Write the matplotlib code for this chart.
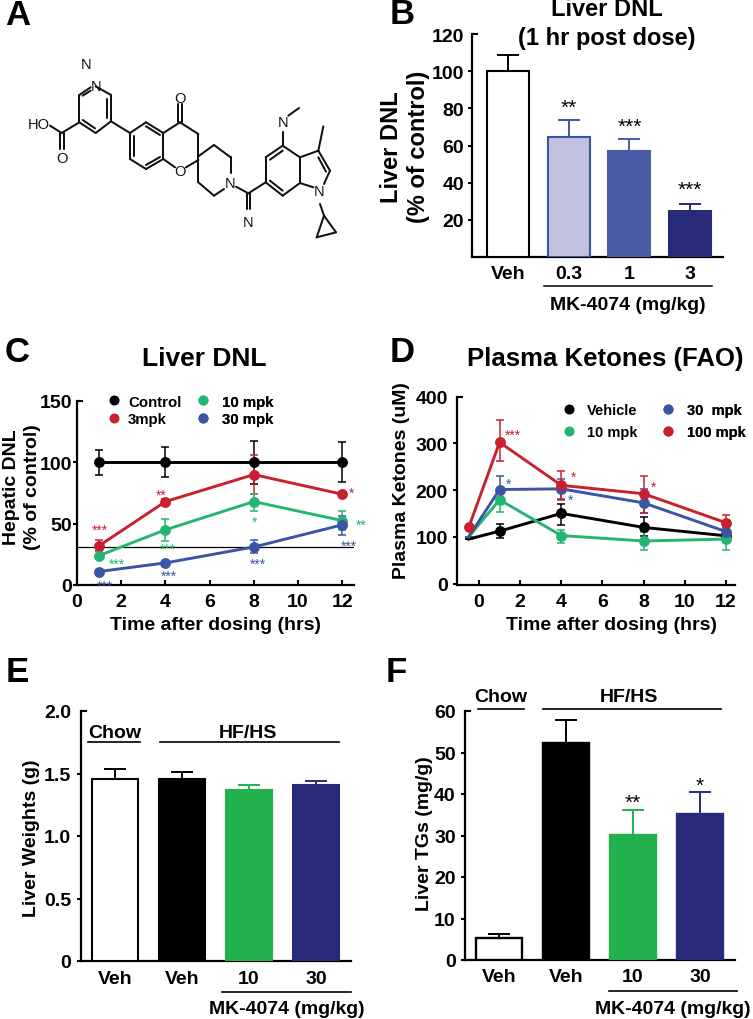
import matplotlib
matplotlib.use("Agg")
import matplotlib.pyplot as plt
from matplotlib.lines import Line2D
from matplotlib.markers import TICKRIGHT
from matplotlib.transforms import Affine2D

W, H = 753, 1020
plt.rcParams['font.family'] = ['Liberation Sans', 'DejaVu Sans']
plt.rcParams['font.weight'] = 'bold'

BLACK, RED, GREEN, BLUE = '#000000', '#C8202F', '#25B573', '#3B55A5'
BAR_GREEN, NAVY, LIGHT, MID = '#22B14C', '#272B78', '#C2C1E0', '#4A5CA8'

# ---------- Panel B ----------
b_cats = ['Veh', '0.3', '1', '3']
b_vals = [100, 64.5, 57, 24.5]
b_tops = [108.5, 73.5, 63.5, 28.5]
b_fill = ['white', LIGHT, MID, NAVY]
b_edge = ['black', BLUE, MID, NAVY]
b_stars = ['', '**', '***', '***']
b_star_y = [0, 84, 73.5, 40]

# ---------- Panel C ----------
c_t = [1, 4, 8, 12]
c_ctrl = [100, 100, 100, 100]
c_ctrl_lo = [90, 88, 82.6, 84]
c_ctrl_hi = [110, 112.6, 117.5, 116.6]
c_3 = [32, 68, 90, 74]
c_3_lo = [28, 66, 74.5, 72]
c_3_hi = [37, 70, 106, 76]
c_10 = [24, 45, 68, 52.5]
c_10_lo = [22.5, 36, 60.6, 45]
c_10_hi = [25.5, 54, 74, 60]
c_30 = [11, 18, 31, 49]
c_30_lo = [10, 16.5, 26, 41]
c_30_hi = [12, 19.5, 37, 56]
c_ref = 31
c_ann = [('***', 1.05, 47.7, RED), ('**', 3.82, 76.6, RED), ('*', 12.4, 78.5, RED),
         ('***', 1.8, 20.4, GREEN), ('***', 4.12, 32.4, GREEN), ('*', 8.05, 54.4, GREEN),
         ('**', 12.86, 51.8, GREEN), ('***', 1.24, 2.7, BLUE), ('***', 4.15, 11, BLUE),
         ('***', 8.17, 20, BLUE), ('***', 12.3, 35.4, BLUE)]

# ---------- Panel D ----------
d_t = [-0.5, 1, 4, 8, 12]
d_veh = [95, 112, 150, 120, 102]
d_veh_lo = [95, 97, 125, 102, 96]
d_veh_hi = [95, 127, 169, 142, 108]
d_10 = [100, 179, 102.5, 91, 95]
d_10_lo = [100, 153, 87, 72, 72]
d_10_hi = [100, 200, 115, 110, 115]
d_30 = [100, 201, 202.5, 172.5, 111]
d_30_lo = [100, 175, 180, 151, 103]
d_30_hi = [100, 229, 224, 202, 119]
d_100 = [120, 302, 210, 192, 130]
d_100_lo = [120, 263, 179, 151, 113]
d_100_hi = [120, 350, 240, 231, 147]
d_ann = [('***', 1.64, 327, RED), ('*', 1.42, 222, BLUE), ('*', 4.6, 237, RED),
         ('*', 4.47, 187, BLUE), ('*', 8.5, 215, RED)]

# ---------- Panel E ----------
e_cats = ['Veh', 'Veh', '10', '30']
e_vals = [1.46, 1.46, 1.37, 1.41]
e_tops = [1.535, 1.51, 1.41, 1.44]
e_fill = ['white', 'black', BAR_GREEN, NAVY]
e_edge = ['black', 'black', BAR_GREEN, NAVY]

# ---------- Panel F ----------
f_cats = ['Veh', 'Veh', '10', '30']
f_vals = [5.2, 52.2, 30.2, 35.2]
f_tops = [6.2, 57.8, 36.2, 40.5]
f_fill = ['white', 'black', BAR_GREEN, NAVY]
f_edge = ['black', 'black', BAR_GREEN, NAVY]
f_stars = ['', '', '**', '*']
f_star_y = [0, 0, 39.4, 43.5]

# ---------- Panel A: skeleton, in 3x-zoom pixel units ----------
bonds = [
    (287, 262, 333, 288), (333, 288, 333, 367), (333, 367, 287, 402), (287, 402, 238, 370),
    (238, 370, 238, 288), (238, 288, 272, 265), (322, 300, 322, 358), (285, 388, 248, 363),
    (248, 290, 272, 275), (238, 370, 185, 402), (185, 402, 150, 380), (180, 402, 180, 450),
    (191, 402, 191, 450), (333, 367, 390, 402), (390, 402, 438, 370), (438, 370, 490, 402),
    (490, 402, 490, 480), (490, 480, 438, 510), (438, 510, 390, 480), (390, 480, 390, 402),
    (402, 410, 402, 472), (438, 382, 480, 408), (438, 498, 480, 474), (490, 402, 540, 370),
    (535, 370, 535, 314), (546, 370, 546, 314), (540, 370, 595, 405), (595, 405, 595, 550),
    (490, 480, 525, 505), (558, 505, 595, 483), (595, 472, 642, 438), (642, 438, 692, 475),
    (692, 475, 692, 522), (595, 550, 642, 590), (642, 590, 672, 570), (708, 563, 745, 583),
    (740, 583, 740, 630), (751, 583, 751, 630), (745, 583, 797, 550), (797, 550, 797, 475),
    (797, 475, 848, 440), (848, 440, 900, 475), (900, 475, 900, 552), (900, 552, 848, 590),
    (848, 590, 797, 550), (810, 482, 848, 455), (810, 545, 848, 575), (848, 440, 848, 400),
    (865, 350, 897, 327), (900, 475, 955, 455), (955, 455, 990, 515), (990, 515, 972, 555),
    (900, 552, 940, 565), (955, 455, 970, 382), (955, 475, 978, 518), (960, 615, 972, 650),
    (972, 650, 950, 715), (950, 715, 1008, 700), (1008, 700, 972, 650),
]
atoms = [('N', 257, 195), ('N', 287, 262), ('HO', 115, 376), ('O', 187, 476), ('O', 540, 298),
         ('O', 540, 515), ('N', 690, 553), ('N', 745, 668), ('N', 848, 370), ('N', 958, 575)]

fig = plt.figure(figsize=(W / 100, H / 100), dpi=100)
PX = Affine2D().scale(1 / W, -1 / H).translate(0, 1) + fig.transFigure


def axpx(left, top, right, bottom):
    a = fig.add_axes([left / W, 1 - bottom / H, (right - left) / W, (bottom - top) / H])
    a.patch.set_alpha(0)
    a.spines[['top', 'right']].set_visible(False)
    a.spines[['left', 'bottom']].set_linewidth(1.6)
    return a


def frac(a, px, py):
    b = a.get_position()
    return (px / W - b.x0) / b.width, ((1 - py / H) - b.y0) / b.height


def ftext(px, py, s, size, **kw):
    kw.setdefault('ha', 'center')
    kw.setdefault('va', 'center')
    return fig.text(px / W, 1 - py / H, s, fontsize=size, **kw)


def star(a, x, y, s, color, size, weight='bold'):
    a.annotate(s, (x, y), xytext=(0, -0.56 * size), textcoords='offset points',
               ha='center', va='baseline', color=color, fontsize=size, fontweight=weight,
               annotation_clip=False)


def title(a, s, px, py, size):
    a.set_title(s, x=frac(a, px, py)[0], y=frac(a, px, py)[1], fontsize=size,
                fontweight='bold', va='center', ha='center')


def xlab(a, s, px, py, size=14):
    a.set_xlabel(s, fontsize=size, fontweight='bold', va='center')
    a.xaxis.set_label_coords(*frac(a, px, py))


def ylab(a, s, px, py, size=14, linespacing=1.2):
    a.set_ylabel(s, fontsize=size, fontweight='bold', va='center', ha='center',
                 multialignment='center', linespacing=linespacing)
    a.yaxis.set_label_coords(*frac(a, px, py))


def yticks(a, ticks, labels, size, pad):
    a.set_yticks(ticks, labels)
    a.tick_params(axis='y', direction='out', length=2.6, width=1.5, labelsize=size, pad=pad)
    t = a.yaxis.get_major_ticks()[-1]
    t.tick1line.set_marker(TICKRIGHT)
    t.tick1line.set_markersize(4.5)


def bars(a, vals, tops, fill, edge, width, cap, lw=1.5):
    for i, (v, top, fc, ec) in enumerate(zip(vals, tops, fill, edge)):
        a.errorbar(i, v, yerr=[[0], [top - v]], color=ec, capsize=cap, capthick=1.4,
                   elinewidth=1.4, zorder=2)
        a.bar(i, v, width=width, facecolor=fc, edgecolor=ec, linewidth=lw, zorder=3)


def series(a, t, v, lo, hi, color, size=6.8, markers=None, cap=3):
    err = [[m - l for m, l in zip(v, lo)], [h - m for m, h in zip(v, hi)]]
    a.errorbar(t, v, yerr=err, fmt='none', ecolor=color, elinewidth=1.1, capsize=cap,
               capthick=1.1, clip_on=False, zorder=4)
    a.plot(t, v, '-', color=color, lw=2.1, clip_on=False, zorder=5)
    a.plot(t, v, 'o', color=color, ms=size, markevery=markers, clip_on=False, zorder=5)


def mini_legend(a, hx, cy, labels, colors, size, spacing_px, gap_px):
    em = size * 100 / 72
    handles = [Line2D([], [], ls='', marker='o', color=c, ms=6.2) for c in colors]
    leg = a.legend(handles, labels, loc='center left', bbox_to_anchor=(hx - em / 2, cy),
                   bbox_transform=PX, frameon=False, borderpad=0, borderaxespad=0,
                   handlelength=1, handleheight=0.7, numpoints=1,
                   handletextpad=(gap_px - em / 2) / em,
                   labelspacing=(spacing_px - em * 1.0) / em,
                   prop={'size': size, 'weight': 'bold'})
    a.add_artist(leg)


# Panel A
ov = fig.add_axes([0, 0, 1, 1])
ov.set_xlim(0, W)
ov.set_ylim(H, 0)
ov.axis('off')
for x1, y1, x2, y2 in bonds:
    ov.plot([x1 / 3, x2 / 3], [y1 / 3, y2 / 3], color='#111111', lw=1.45, solid_capstyle='round')
for s, x, y in atoms:
    ov.text(x / 3, y / 3, s, ha='center', va='center', fontsize=10.5, fontweight='normal',
            color='#111111')

# Panel letters
for s, x, y in [('A', 18, 16), ('B', 402, 15), ('C', 17, 352), ('D', 402, 352), ('E', 17, 672), ('F', 396, 672)]:
    ftext(x, y, s, 25, fontweight='bold')

# Panel B
ax = axpx(472, 35, 723, 258)
ax.set_xlim((472 - 508) / 60.7, (723 - 508) / 60.7)
ax.set_ylim(0, 120)
bars(ax, b_vals, b_tops, b_fill, b_edge, 0.69, 8)
for i, (s, y) in enumerate(zip(b_stars, b_star_y)):
    if s:
        star(ax, i, y, s, 'black', 15, 'normal')
yticks(ax, [20, 40, 60, 80, 100, 120], ['20', '40', '60', '80', '100', '120'], 14, 3)
ax.set_xticks(range(4), b_cats)
ax.tick_params(axis='x', length=0, labelsize=14, pad=6)
ax.plot([0.59, 3.36], [-15.6, -15.6], color='black', lw=1.1, clip_on=False)
ax.set_xlim((472 - 508) / 60.7, (723 - 508) / 60.7)
ax.set_ylim(0, 120)
ylab(ax, 'Liver DNL\n(% of control)', 405, 147, 17, 1.2)
xlab(ax, 'MK-4074 (mg/kg)', 628, 305)
ftext(607, 10, 'Liver DNL', 17)
ftext(607, 38, '(1 hr post dose)', 17)

# Panel C
ax = axpx(77, 402, 354, 586)
ax.set_xlim(0, (354 - 77) / 22.1)
ax.set_ylim(0, 150)
ax.axhline(c_ref, color='black', lw=0.9, zorder=3)
series(ax, c_t, c_ctrl, c_ctrl_lo, c_ctrl_hi, BLACK)
series(ax, c_t, c_3, c_3_lo, c_3_hi, RED)
series(ax, c_t, c_10, c_10_lo, c_10_hi, GREEN)
series(ax, c_t, c_30, c_30_lo, c_30_hi, BLUE)
for s, x, y, col in c_ann:
    star(ax, x, y, s, col, 10, 'normal')
yticks(ax, [0, 50, 100, 150], ['0', '50', '100', '150'], 14, 1)
ax.set_xticks(range(0, 13, 2))
ax.tick_params(axis='x', direction='in', length=3.5, width=1.5, labelsize=14, pad=6)
title(ax, 'Liver DNL', 204, 367, 19)
xlab(ax, 'Time after dosing (hrs)', 216, 625)
ylab(ax, 'Hepatic DNL\n(% of control)', 22, 487, 14, 1.35)
mini_legend(ax, 114, 411.5, ['Control', '3mpk'], [BLACK, RED], 10.8, 18.7, 14)
mini_legend(ax, 203, 411.5, ['10 mpk', '30 mpk'], [GREEN, BLUE], 10.8, 18.7, 19)

# Panel D
ax = axpx(457, 397.5, 735, 586)
ax.set_xlim((457 - 479) / 20.58, (735 - 479) / 20.58)
ax.set_ylim(-3.2, 400)
series(ax, d_t, d_veh, d_veh_lo, d_veh_hi, BLACK, markers=[1, 2, 3, 4])
series(ax, d_t, d_10, d_10_lo, d_10_hi, GREEN, markers=[1, 2, 3, 4])
series(ax, d_t, d_30, d_30_lo, d_30_hi, BLUE, markers=[1, 2, 3, 4])
series(ax, d_t, d_100, d_100_lo, d_100_hi, RED)
for s, x, y, col in d_ann:
    star(ax, x, y, s, col, 10, 'normal')
yticks(ax, [0, 100, 200, 300, 400], ['0', '100', '200', '300', '400'], 14, 4)
ax.set_xticks(range(0, 13, 2))
ax.tick_params(axis='x', direction='in', length=3.5, width=1.5, labelsize=14, pad=6)
title(ax, 'Plasma Ketones (FAO)', 605, 367, 18.5)
xlab(ax, 'Time after dosing (hrs)', 612, 625)
ylab(ax, 'Plasma Ketones (uM)', 402, 481)
mini_legend(ax, 569, 422, ['Vehicle', '10 mpk'], [BLACK, GREEN], 10.5, 22.7, 18)
mini_legend(ax, 668, 422, ['30  mpk', '100 mpk'], [BLUE, RED], 10.5, 22.7, 19)

# Panel E
ax = axpx(81, 712, 351, 962)
xl = ((81 - 115) / 67, (351 - 115) / 67)
bars(ax, e_vals, e_tops, e_fill, e_edge, 0.68, 8)
ax.plot([-0.40, 0.37], [1.75, 1.75], color='black', lw=1.2, clip_on=False)
ax.plot([0.67, 3.34], [1.75, 1.75], color='black', lw=1.2, clip_on=False)
ax.plot([1.6, 3.52], [-0.248, -0.248], color='black', lw=1.2, clip_on=False)
ax.set_xlim(*xl)
ax.set_ylim(0, 2)
yticks(ax, [0, 0.5, 1, 1.5, 2], ['0', '0.5', '1.0', '1.5', '2.0'], 14, 4.5)
ax.set_xticks(range(4), e_cats)
ax.tick_params(axis='x', length=0, labelsize=14, pad=6.5)
ylab(ax, 'Liver Weights (g)', 32, 838)
xlab(ax, 'MK-4074 (mg/kg)', 287, 1010)
ftext(115, 733, 'Chow', 14)
ftext(248, 733, 'HF/HS', 14)

# Panel F
ax = axpx(465, 712, 735, 961)
xl = ((465 - 499) / 67, (735 - 499) / 67)
bars(ax, f_vals, f_tops, f_fill, f_edge, 0.68, 8, lw=1.7)
for i, (s, y) in enumerate(zip(f_stars, f_star_y)):
    if s:
        star(ax, i, y, s, 'black', 15, 'normal')
ax.plot([-0.32, 0.37], [60.6, 60.6], color='black', lw=1.2, clip_on=False)
ax.plot([0.66, 3.31], [60.6, 60.6], color='black', lw=1.2, clip_on=False)
ax.plot([1.64, 3.55], [-7.4, -7.4], color='black', lw=1.2, clip_on=False)
ax.set_xlim(*xl)
ax.set_ylim(0, 60)
yticks(ax, [0, 10, 20, 30, 40, 50, 60], ['0', '10', '20', '30', '40', '50', '60'], 14, 4)
ax.set_xticks(range(4), f_cats)
ax.tick_params(axis='x', length=0, labelsize=14, pad=6)
ylab(ax, 'Liver TGs (mg/g)', 424, 834)
xlab(ax, 'MK-4074 (mg/kg)', 673, 1010)
ftext(501, 697, 'Chow', 14)
ftext(629, 697, 'HF/HS', 14)

fig.savefig('out.png', dpi=100)
